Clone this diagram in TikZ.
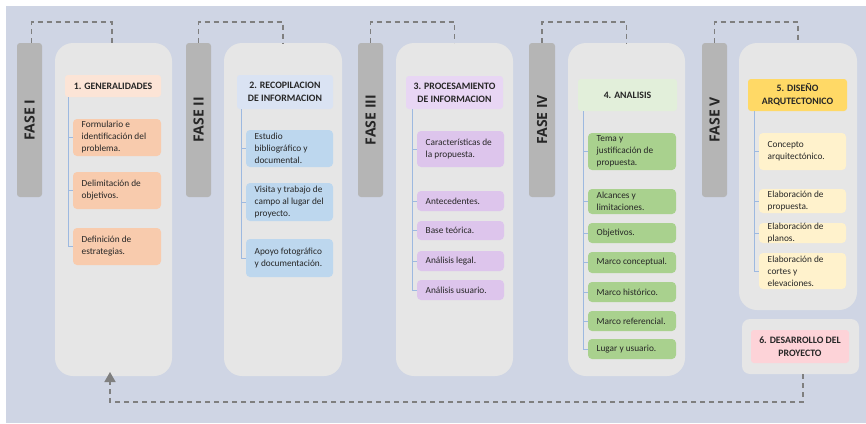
\documentclass[tikz,border=0pt]{standalone}
\usepackage{fontspec}
\setmainfont{Carlito}
\newfontfamily\fasefont{Open Sans}
\usetikzlibrary{arrows.meta}
\definecolor{bgc}{HTML}{CFD5E4}
\definecolor{panelc}{HTML}{E6E6E6}
\definecolor{fasec}{HTML}{B5B5B5}
\definecolor{dashc}{HTML}{7F7F7F}
\definecolor{treec}{HTML}{9DB9E0}
\definecolor{txtc}{HTML}{262626}
\definecolor{hA}{HTML}{FCE4D6}\definecolor{iA}{HTML}{F8CBAD}
\definecolor{hB}{HTML}{DAE3F3}\definecolor{iB}{HTML}{BDD7EE}
\definecolor{hC}{HTML}{E8D6F4}\definecolor{iC}{HTML}{DDC5EC}
\definecolor{hD}{HTML}{E2EFDA}\definecolor{iD}{HTML}{A9D18E}
\definecolor{hE}{HTML}{FFD966}\definecolor{iE}{HTML}{FFF2CC}
\definecolor{hF}{HTML}{FDD3D8}
\tikzset{
  basebox/.style={inner sep=0pt, outer sep=0pt},
  fasebox/.style={basebox, fill=fasec, rounded corners=3pt},
  panelbox/.style={basebox, fill=panelc, rounded corners=18pt},
  smallpanel/.style={basebox, fill=panelc, rounded corners=8pt},
  headbox/.style={basebox, rounded corners=3pt, align=center, text=txtc,
    font=\fontsize{9.8}{13}\selectfont\bfseries},
  itembox/.style={basebox, rounded corners=4pt},
  itemtext/.style={inner sep=0pt, anchor=west, align=left, text=txtc,
    font=\fontsize{9.3}{12}\selectfont},
  fasetext/.style={rotate=90, text=txtc, font=\fasefont\fontsize{14}{16}\selectfont\bfseries},
  tree/.style={draw=treec, line width=0.8pt},
  dashconn/.style={draw=dashc, line width=1.4pt, dash pattern=on 5pt off 4pt}
}
\newcommand\mkbox[6]{%
  \node[#6, minimum width={(#4-#2)*1pt}, minimum height={(#5-#3)*1pt}] (#1) at ({(#2+#4)/2},{(#3+#5)/2}) {};}
\newcommand\mkhead[7]{%
  \node[headbox, fill=#6, minimum width={(#4-#2)*1pt}, minimum height={(#5-#3)*1pt}] (#1) at ({(#2+#4)/2},{(#3+#5)/2}) {#7};}
\newcommand\mkitem[7]{%
  \node[itembox, fill=#6, minimum width={(#4-#2)*1pt}, minimum height={(#5-#3)*1pt}] (#1) at ({(#2+#4)/2},{(#3+#5)/2}) {};
  \node[itemtext] (#1t) at ([xshift=8.5pt]#1.west) {#7};}
\begin{document}
\begin{tikzpicture}[x={(1pt,0pt)}, y={(0pt,-1pt)}]
\useasboundingbox (0,0) rectangle (866,423);
\fill[bgc] (6,6) rectangle (866,423);
% phase bars
\mkbox{f1}{17}{43}{42}{197}{fasebox}
\mkbox{f2}{186}{43}{211}{197}{fasebox}
\mkbox{f3}{358}{43}{383}{197}{fasebox}
\mkbox{f4}{529}{43}{555}{197}{fasebox}
\mkbox{f5}{702}{43}{727}{197}{fasebox}
\node[fasetext] (f1t) at (f1) {FASE I};
\node[fasetext] (f2t) at (f2) {FASE II};
\node[fasetext] (f3t) at (f3) {FASE III};
\node[fasetext] (f4t) at (f4) {FASE IV};
\node[fasetext] (f5t) at (f5) {FASE V};
% panels
\mkbox{p1}{55}{43}{172}{376}{panelbox}
\mkbox{p2}{224}{43}{342}{376}{panelbox}
\mkbox{p3}{396}{43}{513}{376}{panelbox}
\mkbox{p4}{568}{43}{685}{376}{panelbox}
\mkbox{p5}{739}{43}{857}{310}{panelbox}
\mkbox{p6}{742}{319}{859}{374}{smallpanel}
% headers
\mkhead{h1}{65}{75}{161}{97}{hA}{1. GENERALIDADES}
\mkhead{h2}{237}{75}{333}{109}{hB}{2. RECOPILACION\\DE INFORMACION}
\mkhead{h3}{406}{76}{503}{109}{hC}{3. PROCESAMIENTO\\DE INFORMACION}
\mkhead{h4}{578}{79}{677}{111}{hD}{4. ANALISIS}
\mkhead{h5}{748}{79}{847}{111}{hE}{5. DISEÑO\\ARQUTECTONICO}
\mkhead{h6}{751}{330}{849}{363}{hF}{6. DESARROLLO DEL\\PROYECTO}
% items panel 1
\mkitem{i11}{73}{119}{161}{156}{iA}{Formulario e\\identificación del\\problema.}
\mkitem{i12}{73}{172}{161}{209}{iA}{Delimitación de\\objetivos.}
\mkitem{i13}{73}{228}{161}{265}{iA}{Definición de\\estrategias.}
% items panel 2
\mkitem{i21}{246}{130}{333}{167}{iB}{Estudio\\bibliográfico y\\documental.}
\mkitem{i22}{246}{183}{333}{221}{iB}{Visita y trabajo de\\campo al lugar del\\proyecto.}
\mkitem{i23}{246}{239}{333}{277}{iB}{Apoyo fotográfico\\y documentación.}
% items panel 3
\mkitem{i31}{417}{131}{504}{167}{iC}{Características de\\la propuesta.}
\mkitem{i32}{417}{191}{504}{211}{iC}{Antecedentes.}
\mkitem{i33}{417}{221}{504}{240}{iC}{Base teórica.}
\mkitem{i34}{417}{251}{504}{271}{iC}{Análisis legal.}
\mkitem{i35}{417}{280}{504}{300}{iC}{Análisis usuario.}
% items panel 4
\mkitem{i41}{588}{133}{676}{170}{iD}{Tema y\\justificación de\\propuesta.}
\mkitem{i42}{588}{189}{676}{214}{iD}{Alcances y\\limitaciones.}
\mkitem{i43}{588}{223}{676}{243}{iD}{Objetivos.}
\mkitem{i44}{588}{252}{676}{273}{iD}{Marco conceptual.}
\mkitem{i45}{588}{282}{676}{302}{iD}{Marco histórico.}
\mkitem{i46}{588}{311}{676}{331}{iD}{Marco referencial.}
\mkitem{i47}{588}{339}{676}{359}{iD}{Lugar y usuario.}
% items panel 5
\mkitem{i51}{759}{133}{846}{170}{iE}{Concepto\\arquitectónico.}
\mkitem{i52}{759}{189}{846}{213}{iE}{Elaboración de\\propuesta.}
\mkitem{i53}{759}{223}{846}{243}{iE}{Elaboración de\\planos.}
\mkitem{i54}{759}{253}{846}{289}{iE}{Elaboración de\\cortes y\\elevaciones.}
% tree lines
\coordinate (t1) at ([xshift=-5pt]i11.west);
\coordinate (t2) at ([xshift=-5pt]i21.west);
\coordinate (t3) at ([xshift=-5pt]i31.west);
\coordinate (t4) at ([xshift=-5pt]i41.west);
\coordinate (t5) at ([xshift=-5pt]i51.west);
\draw[tree] (t1 |- h1.south) -- (t1 |- i13.west);
\draw[tree] (t2 |- h2.south) -- (t2 |- i23.west);
\draw[tree] (t3 |- h3.south) -- (t3 |- i35.west);
\draw[tree] (t4 |- h4.south) -- (t4 |- i47.west);
\draw[tree] (t5 |- h5.south) -- (t5 |- i54.west);
\foreach \n in {i11,i12,i13} \draw[tree] (t1 |- \n.west) -- (\n.west);
\foreach \n in {i21,i22,i23} \draw[tree] (t2 |- \n.west) -- (\n.west);
\foreach \n in {i31,i32,i33,i34,i35} \draw[tree] (t3 |- \n.west) -- (\n.west);
\foreach \n in {i41,i42,i43,i44,i45,i46,i47} \draw[tree] (t4 |- \n.west) -- (\n.west);
\foreach \n in {i51,i52,i53,i54} \draw[tree] (t5 |- \n.west) -- (\n.west);
% dashed connectors
\draw[dashconn] ([xshift=2pt]f1.north) -- ++(0,-21) -| ([xshift=-1.5pt]p1.north);
\draw[dashconn] (f2.north) -- ++(0,-21) -| (p2.north);
\draw[dashconn] (f3.north) -- ++(0,-21) -| (p3.north);
\draw[dashconn] (f4.north) -- ++(0,-21) -| (p4.north);
\draw[dashconn] (f5.north) -- ++(0,-21) -| (p5.north);
\draw[dashconn, -{Triangle[width=11pt,length=10pt]}] ([xshift=2.5pt]p6.south) -- ++(0,28) -| ([xshift=-3.5pt,yshift=4pt]p1.south);
\end{tikzpicture}
\end{document}
